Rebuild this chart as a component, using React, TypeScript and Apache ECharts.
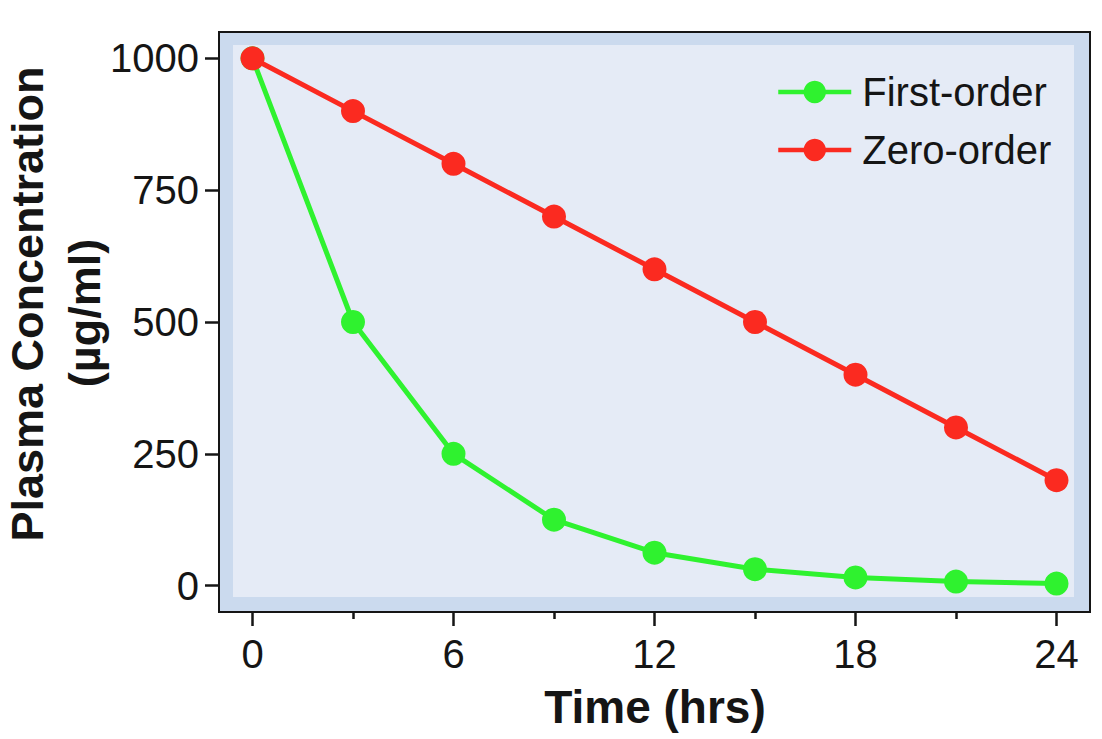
import React, { useEffect, useRef } from "react";
import * as echarts from "echarts";

const hours = [0, 3, 6, 9, 12, 15, 18, 21, 24];
const firstOrder = [1000, 500, 250, 125, 62.5, 31.25, 15.6, 7.8, 3.9];
const zeroOrder = [1000, 900, 800, 700, 600, 500, 400, 300, 200];
const xMajorTicks = [0, 6, 12, 18, 24];
const xMinorTicks = [3, 9, 15, 21];
const yTicks = [0, 250, 500, 750, 1000];
const seriesNames = ["First-order", "Zero-order"];
const xTitle = "Time (hrs)";
const yTitle1 = "Plasma Concentration";
const yTitle2 = "(µg/ml)";

const FONT = '"Liberation Sans", Arial, Helvetica, sans-serif';
const GREEN = "#2ff22f";
const RED = "#fb2a20";
const INK = "#151515";

export default function App() {
  const ref = useRef<HTMLDivElement>(null);
  useEffect(() => {
    const chart = echarts.init(ref.current!, null, { renderer: "svg" });
    const gl = 219, gt = 32, gw = 871, gh = 580;
    const inset = 14;
    chart.setOption({
      animation: false,
      grid: {
        left: gl,
        top: gt,
        width: gw,
        height: gh,
        show: true,
        backgroundColor: "#cbdaee",
        borderColor: INK,
        borderWidth: 2,
      },
      legend: {
        orient: "vertical",
        left: 776,
        top: 72,
        padding: 0,
        itemWidth: 73,
        itemHeight: 28,
        itemGap: 18,
        data: seriesNames,
        lineStyle: { width: 4.5 },
        textStyle: {
          fontSize: 40,
          lineHeight: 40,
          fontFamily: FONT,
          color: INK,
          padding: [0, 0, 0, 6],
        },
      },
      xAxis: [
        {
          type: "value",
          min: -1,
          max: 25,
          position: "bottom",
          axisLine: { show: true, onZero: false, lineStyle: { color: INK, width: 2 } },
          axisTick: {
            show: true,
            length: 14,
            customValues: xMajorTicks,
            lineStyle: { color: INK, width: 2.5 },
          },
          axisLabel: {
            customValues: xMajorTicks,
            fontSize: 40,
            color: INK,
            fontFamily: FONT,
            margin: 22,
          },
          splitLine: { show: false },
        },
        {
          type: "value",
          min: -1,
          max: 25,
          position: "bottom",
          axisLine: { show: false, onZero: false },
          axisTick: {
            show: true,
            length: 7,
            customValues: xMinorTicks,
            lineStyle: { color: INK, width: 2.5 },
          },
          axisLabel: { show: false },
          splitLine: { show: false },
        },
      ],
      yAxis: {
        type: "value",
        min: -50,
        max: 1050,
        axisLine: { show: true, onZero: false, lineStyle: { color: INK, width: 2 } },
        axisTick: {
          show: true,
          length: 14,
          customValues: yTicks,
          lineStyle: { color: INK, width: 2.5 },
        },
        axisLabel: {
          customValues: yTicks,
          formatter: (v: number) => String(v),
          fontSize: 40,
          color: INK,
          fontFamily: FONT,
          margin: 20,
        },
        splitLine: { show: false },
      },
      graphic: [
        {
          type: "rect",
          z: 1,
          silent: true,
          shape: { x: gl + inset, y: gt + 13, width: gw - inset - 16, height: gh - 13 - 15 },
          style: { fill: "#e5ebf6" },
        },
        {
          type: "text",
          x: 655,
          y: 707,
          style: {
            text: xTitle,
            fontSize: 46,
            fontWeight: "bold",
            fontFamily: FONT,
            fill: INK,
            align: "center",
            verticalAlign: "middle",
          },
        },
        {
          type: "text",
          x: 27,
          y: 304,
          rotation: Math.PI / 2,
          style: {
            text: yTitle1,
            fontSize: 45,
            fontWeight: "bold",
            fontFamily: FONT,
            fill: INK,
            align: "center",
            verticalAlign: "middle",
          },
        },
        {
          type: "text",
          x: 84,
          y: 313,
          rotation: Math.PI / 2,
          style: {
            text: yTitle2,
            fontSize: 45,
            fontWeight: "bold",
            fontFamily: FONT,
            fill: INK,
            align: "center",
            verticalAlign: "middle",
          },
        },
      ],
      series: [
        {
          name: seriesNames[0],
          type: "line",
          xAxisIndex: 0,
          data: hours.map((h, i) => [h, firstOrder[i]]),
          symbol: "circle",
          symbolSize: 24,
          itemStyle: { color: GREEN },
          lineStyle: { color: GREEN, width: 5 },
          z: 3,
        },
        {
          name: seriesNames[1],
          type: "line",
          xAxisIndex: 0,
          data: hours.map((h, i) => [h, zeroOrder[i]]),
          symbol: "circle",
          symbolSize: 24,
          itemStyle: { color: RED },
          lineStyle: { color: RED, width: 5 },
          z: 4,
        },
      ],
    });
    return () => chart.dispose();
  }, []);
  return (
    <div
      ref={ref}
      style={{ position: "fixed", left: 0, top: 0, width: 1102, height: 739, background: "#fff" }}
    />
  );
}
